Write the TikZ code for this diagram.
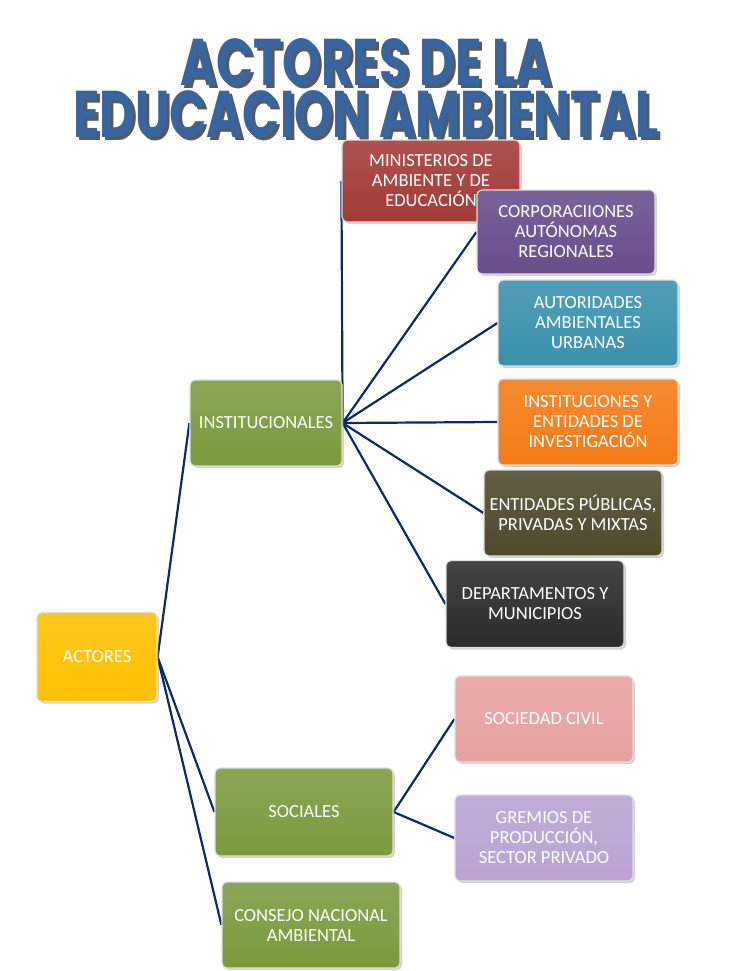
\documentclass[tikz,border=0pt]{standalone}
\usepackage{fontspec}
\setmainfont{Carlito}
\newfontfamily\titlefont{Poppins}
\usepackage{graphicx}
\usetikzlibrary{shadows,backgrounds}
\definecolor{rojo}{HTML}{A23B38}
\definecolor{morado}{HTML}{684D8C}
\definecolor{azulv}{HTML}{3A91AC}
\definecolor{naranja}{HTML}{F47B15}
\definecolor{oliva}{HTML}{4E492B}
\definecolor{negro}{HTML}{2B2B2B}
\definecolor{verde}{HTML}{7A9A3D}
\definecolor{amarillo}{HTML}{FFC000}
\definecolor{rosa}{HTML}{E6A19F}
\definecolor{lila}{HTML}{B9A2D2}
\definecolor{enlace}{HTML}{0D2A66}
\definecolor{azult}{HTML}{39659E}
\newcommand{\titulotxt}{\scalebox{0.74}[1]{\titlefont\bfseries ACTORES DE LA}\\\scalebox{0.74}[1]{\titlefont\bfseries EDUCACION AMBIENTAL}}

\begin{document}
\begin{tikzpicture}[x=1pt,y=-1pt,
  box/.style={draw=gray!25,line width=1.2pt,rounded corners=5pt,align=center,text=white,
              font=\fontsize{18.5}{20}\selectfont,inner sep=2pt,minimum width=178pt,
              minimum height=86pt,top color=#1!88!white,bottom color=#1,
              drop shadow={opacity=0.35,shadow xshift=2pt,shadow yshift=-2pt}},
  box/.default=verde,
  link/.style={draw=enlace,line width=2.2pt}]
  \useasboundingbox (0,0) rectangle (728,971);
  % title
  \node[align=center,text=black!65,font=\fontsize{66}{52}\selectfont] (titulosombra) at (369,91) {\titulotxt};
  \node[align=center,text=azult,font=\fontsize{66}{52}\selectfont] (titulo) at (366,88) {\titulotxt};
  % root
  \node[box=amarillo,minimum width=120pt,minimum height=89pt] (A) at (97,657) {ACTORES};
  % second level
  \node[box,minimum width=152pt] (I) at (266,423) {INSTITUCIONALES};
  \node[box,minimum height=88pt] (S) at (304,812) {SOCIALES};
  \node[box] (C) at (311,925) {CONSEJO NACIONAL\\AMBIENTAL};
  % institucionales
  \node[box=rojo,minimum height=82pt] (I1) at (431,181) {MINISTERIOS DE\\AMBIENTE Y DE\\EDUCACIÓN};
  \node[box=morado,minimum height=84pt] (I2) at (566,232) {CORPORACIIONES\\AUTÓNOMAS\\REGIONALES};
  \node[box=azulv,minimum width=180pt] (I3) at (588,323) {AUTORIDADES\\AMBIENTALES\\URBANAS};
  \node[box=naranja,minimum width=180pt] (I4) at (588,422) {INSTITUCIONES Y\\ENTIDADES DE\\INVESTIGACIÓN};
  \node[box=oliva] (I5) at (573,513) {ENTIDADES PÚBLICAS,\\PRIVADAS Y MIXTAS};
  \node[box=negro,minimum height=87pt] (I6) at (535,604) {DEPARTAMENTOS Y\\MUNICIPIOS};
  % sociales
  \node[box=rosa] (S1) at (544,719) {SOCIEDAD CIVIL};
  \node[box=lila] (S2) at (544,838) {GREMIOS DE\\PRODUCCIÓN,\\SECTOR PRIVADO};
  \begin{pgfonlayer}{background}
    \foreach \n in {I,S,C} \draw[link] (A.east) -- (\n.west);
    \foreach \n in {I1,I2,I3,I4,I5,I6} \draw[link] (I.east) -- (\n.west);
    \foreach \n in {S1,S2} \draw[link] (S.east) -- (\n.west);
  \end{pgfonlayer}
\end{tikzpicture}
\end{document}
